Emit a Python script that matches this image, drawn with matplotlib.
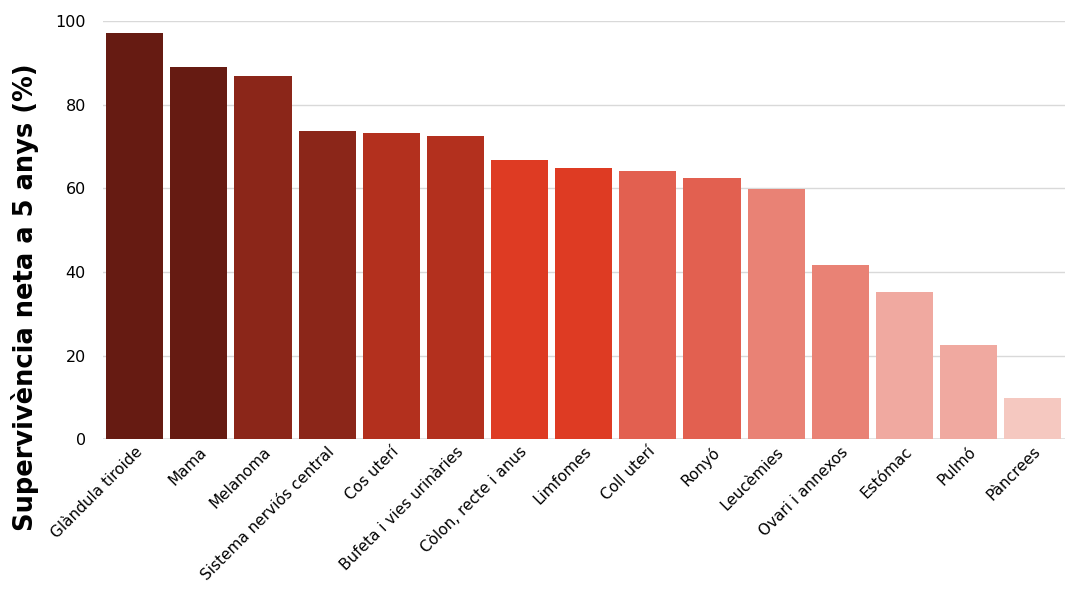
import matplotlib.pyplot as plt

cancers = ["Glàndula tiroide", "Mama", "Melanoma", "Sistema nerviós central",
           "Cos uterí", "Bufeta i vies urinàries", "Còlon, recte i anus",
           "Limfomes", "Coll uterí", "Ronyó", "Leucèmies", "Ovari i annexos",
           "Estómac", "Pulmó", "Pàncrees"]
survival = [97.1, 88.9, 86.8, 73.7, 73.3, 72.5, 66.7, 64.8, 64.1, 62.5,
            59.8, 41.7, 35.3, 22.5, 9.8]
colors = ["#661b12", "#661b12", "#8b2619", "#8b2619", "#b3301e", "#b3301e",
          "#de3b23", "#de3b23", "#e26050", "#e26050", "#e98275", "#e98275",
          "#f0a9a0", "#f0a9a0", "#f5c8c0"]

plt.rcParams["font.family"] = ["DejaVu Sans"]

fig = plt.figure(figsize=(10.8, 6), dpi=100)
ax = fig.add_axes([0.095, 0.268, 0.891, 0.697])

x = list(range(len(cancers)))
ax.bar(x, survival, width=0.89, color=colors, zorder=3)

ax.set_xlim(-0.5, len(cancers) - 0.5)
ax.set_ylim(0, 100)
ax.set_yticks([0, 20, 40, 60, 80, 100])
ax.grid(axis="y", color="#d9d9d9", linewidth=1, zorder=0)
ax.axhline(0, color="#e0e0e0", linewidth=2, zorder=2)
for s in ax.spines.values():
    s.set_visible(False)
ax.tick_params(axis="both", length=0)
ax.tick_params(axis="y", pad=12, labelsize=11.5)
ax.set_xticks(x)
ax.set_xticklabels(cancers, rotation=45, ha="right", rotation_mode="anchor",
                   fontsize=11)
ax.set_ylabel("Supervivència neta a 5 anys (%)", fontsize=18.5,
              fontweight="bold")
ax.yaxis.set_label_coords(-0.066, 0.34)

fig.savefig("out.png", dpi=100)
